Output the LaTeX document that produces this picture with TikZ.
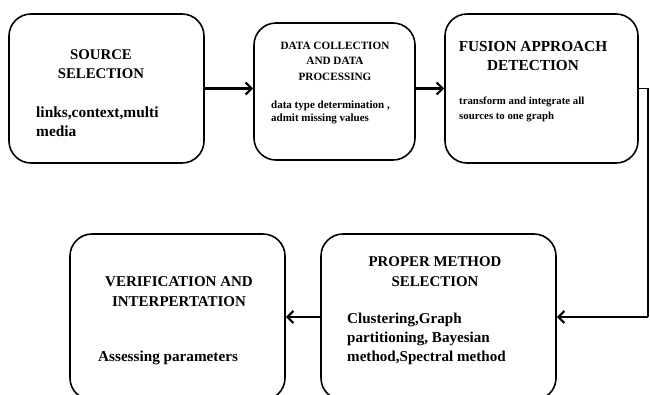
\documentclass[tikz,border=0pt]{standalone}
\usepackage{fontspec}
\setmainfont{Liberation Serif}
\usetikzlibrary{arrows.meta,calc}

\tikzset{
  stagebox/.style={draw=black,line width=1.6pt,rounded corners=22pt,fill=white},
  headtxt/.style={align=center,inner sep=0pt},
  bodytxt/.style={align=left,inner sep=0pt,anchor=west},
  flow/.style={line width=2.2pt,-{Straight Barb[length=6pt,width=12pt,line width=2.2pt]}},
  wire/.style={line width=1.6pt}
}
\newcommand{\fs}[2]{\fontsize{#1}{#2}\selectfont\bfseries}

\begin{document}
\begin{tikzpicture}[x=1pt,y=-1pt]
\clip (0,0) rectangle (650,394);

% top row
\node[stagebox,minimum width=195pt,minimum height=149pt] (src) at (106.5,88.5) {};
\node[stagebox,minimum width=161pt,minimum height=137pt] (dat) at (334.5,91.5) {};
\node[stagebox,minimum width=193pt,minimum height=149pt] (fus) at (541.5,88.5) {};

% bottom row
\node[stagebox,minimum width=235pt,minimum height=166pt] (prp) at (438.5,317) {};
\node[stagebox,minimum width=215pt,minimum height=166pt] (ver) at (177.5,317) {};

% texts
\node[headtxt,font=\fs{14.8}{19}] (srcT) at (101,64.5) {SOURCE\\SELECTION};
\node[bodytxt,font=\fs{15.4}{19}] (srcB) at (36,121.5) {links,context,multi\\media};

\node[headtxt,font=\fs{11.2}{15.5}] (datT) at (335,61) {DATA COLLECTION\\AND DATA\\PROCESSING};
\node[bodytxt,font=\fs{11}{13}] (datB) at (271,112.5) {data type determination ,\\admit missing values};

\node[headtxt,font=\fs{15.3}{19}] (fusT) at (533,56.5) {FUSION APPROACH\\DETECTION};
\node[bodytxt,font=\fs{10.8}{15}] (fusB) at (459,109.5) {transform and integrate all\\sources to one graph};

\node[headtxt,font=\fs{14.9}{20}] (prpT) at (435,272) {PROPER METHOD\\SELECTION};
\node[bodytxt,font=\fs{15.1}{19}] (prpB) at (347,339) {Clustering,Graph\\partitioning, Bayesian\\method,Spectral method};

\node[headtxt,font=\fs{15}{20}] (verT) at (179,292) {VERIFICATION AND\\INTERPERTATION};
\node[bodytxt,font=\fs{15.2}{19}] (verB) at (98,358) {Assessing parameters};

% connectors
\coordinate (turnA) at (648,88.5);
\coordinate (turnB) at (648,317);

\draw[flow] (src.east) -- (src.east -| dat.west);
\draw[flow] (dat.east |- src.east) -- (src.east -| fus.west);
\draw[wire] (fus.east) -- (turnA) -- (turnB);
\draw[flow] (turnB) -- (prp.east);
\draw[flow] (prp.west) -- (ver.east);

\end{tikzpicture}
\end{document}
